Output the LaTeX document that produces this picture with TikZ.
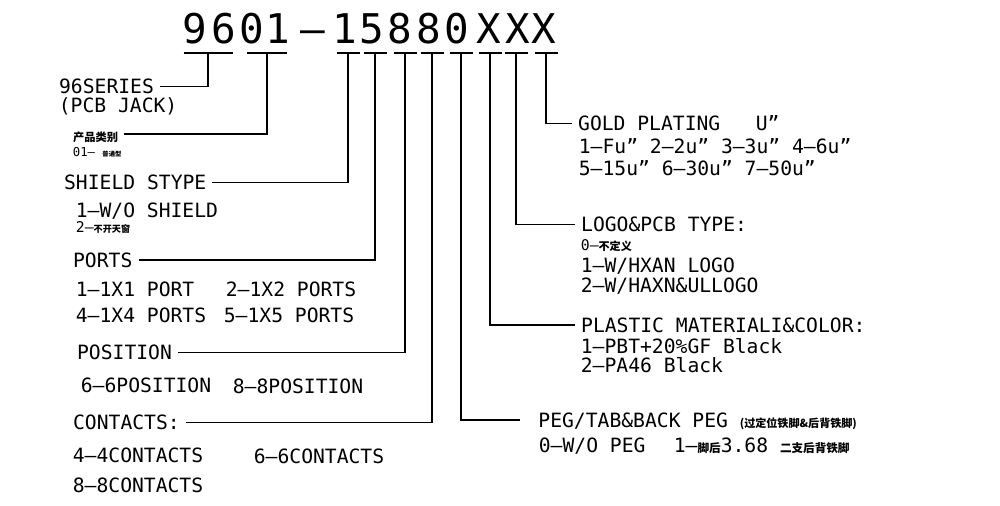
\documentclass[tikz,border=0pt]{standalone}
\usepackage{fontspec}
\newfontfamily\cadfont{DejaVu Sans Mono}
\newfontfamily\cjkfont{Noto Sans CJK SC}
\newcommand{\cjktext}[2]{{\cjkfont\bfseries\fontsize{#1}{#1}\selectfont #2}}

\begin{document}
\begin{tikzpicture}[
      x=0.02cm, y=-0.02cm, % one unit = one pixel of the drawing
      line width=1pt,
      code char/.style={font=\cadfont\fontsize{23.3}{28}\selectfont, anchor=base, inner sep=0pt},
      field/.style={font=\cadfont\fontsize{11.2}{13}\selectfont, anchor=west, text height=8.2pt, text depth=0pt, inner xsep=3pt, inner ysep=0pt},
      option/.style={font=\cadfont\fontsize{11.2}{13}\selectfont, anchor=base west, inner sep=0pt},
      small option/.style={option, font=\cadfont\fontsize{8.4}{10}\selectfont}
    ]

    \useasboundingbox (0,0) rectangle (1000,505);

    % Part number, one character per node
    \foreach \x/\c [count=\i] in {195/9, 223.5/6, 251.5/0, 277.5/1, 312.5/–, 345/1, 371.5/5,
                                  400/8, 428.5/8, 456.5/0, 489/X, 517.5/X, 544/X} {
        \node[code char] (char\i) at (\x,43) {\c};
      }

    % Bars under the code, with a tick coordinate for each field
    \foreach \n/\x/\w in {a/208/24.5, b/267/20, c/348/11.5, d/375/11.5, e/405/11.5,
                          f/432/11.5, g/461/11.5, h/490/11.5, i/516/11.5, j/546/11.5} {
        \draw (\x-\w,53) -- (\x+\w,53);
        \coordinate (tick\n) at (\x,53);
      }

    % Fields on the left
    \node[field] (series) at (53,86.5) {96SERIES};
    \node[option] (pcbjack) at (58,112) {(PCB JACK)};
    \node[field] (category) at (67,134) {\cjktext{6.4}{产品类别}};
    \node[option, font=\cadfont\fontsize{7}{8}\selectfont] (categoryA) at (72,156) {01– \cjktext{3.6}{普通型}};

    \node[field] (shield) at (58,182.5) {SHIELD STYPE};
    \node[option] (shieldA) at (75,217) {1–W/O SHIELD};
    \node[small option] (shieldB) at (75,232) {2–\cjktext{5.2}{不开天窗}};

    \node[field] (ports) at (67,260) {PORTS};
    \node[option] (portsA) at (75,296) {1–1X1 PORT};
    \node[option] (portsB) at (225,296) {2–1X2 PORTS};
    \node[option] (portsC) at (75,322) {4–1X4 PORTS};
    \node[option] (portsD) at (223,322) {5–1X5 PORTS};

    \node[field] (position) at (71,352.5) {POSITION};
    \node[option] (positionA) at (80,392) {6–6POSITION};
    \node[option] (positionB) at (232,393) {8–8POSITION};

    \node[field] (contacts) at (67,422.5) {CONTACTS:};
    \node[option] (contactsA) at (72,462) {4–4CONTACTS};
    \node[option] (contactsB) at (253,463) {6–6CONTACTS};
    \node[option] (contactsC) at (72,492) {8–8CONTACTS};

    % Fields on the right
    \node[field] (gold) at (572,123.5) {GOLD PLATING~~~U”};
    \node[option] (goldA) at (578,153) {1–Fu” 2–2u” 3–3u” 4–6u”};
    \node[option] (goldB) at (578,175) {5–15u” 6–30u” 7–50u”};

    \node[field] (logo) at (575,224.5) {LOGO\&PCB TYPE:};
    \node[small option] (logoA) at (580,250) {0–\cjktext{6.3}{不定义}};
    \node[option] (logoB) at (580,272) {1–W/HXAN LOGO};
    \node[option] (logoC) at (580,292) {2–W/HAXN\&ULLOGO};

    \node[field] (plastic) at (575,325) {PLASTIC MATERIALI\&COLOR:};
    \node[option] (plasticA) at (580,353) {1–PBT+20\%GF Black};
    \node[option] (plasticB) at (580,372) {2–PA46 Black};

    \node[field, inner xsep=10pt] (peg) at (520,420) {PEG/TAB\&BACK PEG \cjktext{6.3}{(过定位铁脚\&后背铁脚)}};
    \node[option] (pegA) at (538,452) {0–W/O PEG};
    \node[option] (pegB) at (673,452) {1–\cjktext{6.6}{脚后}3.68 \cjktext{6.6}{二支后背铁脚}};

    % Leaders from the ticks to the fields
    \draw (ticka) |- (series.east);
    \draw (tickb) |- (category.east);
    \draw (tickc) |- (shield.east);
    \draw (tickd) |- (ports.east);
    \draw (ticke) |- (position.east);
    \draw (tickf) |- (contacts.east);
    \draw (tickg) |- (peg.west);
    \draw (tickh) |- (plastic.west);
    \draw (ticki) |- (logo.west);
    \draw (tickj) |- (gold.west);

  \end{tikzpicture}
\end{document}
